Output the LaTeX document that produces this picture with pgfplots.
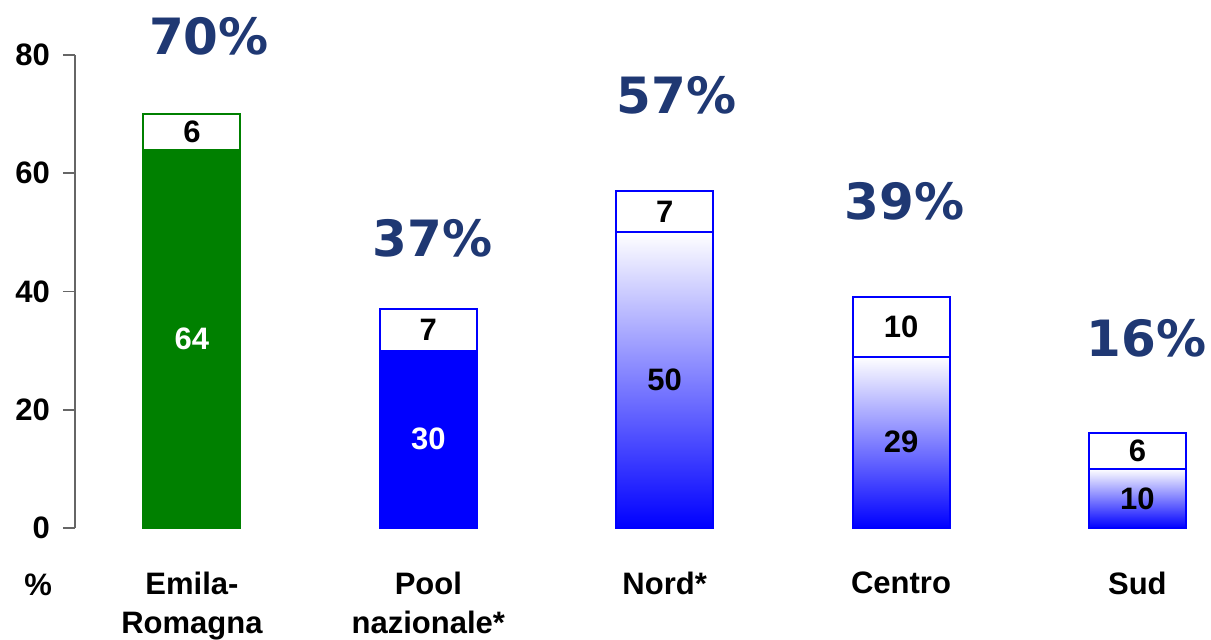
\documentclass[border=0pt]{standalone}
\usepackage{pgfplots}
\pgfplotsset{compat=1.18}
\usepackage{fontspec}
\setmainfont{Liberation Sans}
\newfontfamily\pctfont{DejaVu Sans}
\definecolor{navy}{RGB}{31,56,115}
\definecolor{ergreen}{RGB}{0,128,0}
\begin{document}
\begin{tikzpicture}
\path[use as bounding box] (-37.5pt,-56pt) rectangle (568pt,264pt);
\begin{axis}[
 at={(0,0)}, anchor=south west,
 scale only axis, width=569pt, height=236.5pt,
 xmin=-0.495, xmax=4.32, ymin=0, ymax=80,
 axis lines*=left,
 x axis line style={draw=none},
 y axis line style={draw=black!60, line width=0.8pt, -},
 ytick={0,20,40,60,80},
 ytick style={draw=black!60, line width=0.8pt},
 tick align=outside, major tick length=6pt,
 xtick={0,1,2,3,4},
 xticklabels={{Emila-\\Romagna},{Pool\\nazionale*},{Nord*},{Centro},{Sud}},
 xtick style={draw=none},
 xticklabel style={align=center, font=\fontsize{15.5}{19.5}\selectfont\bfseries, yshift=-12.5pt},
 yticklabel style={font=\fontsize{15.5}{18}\selectfont\bfseries, xshift=-3pt},
 /pgf/number format/assume math mode=true,
 clip=false,
 gradbar/.style={ybar, bar shift=0pt, bar width=48.5pt, draw=blue, line width=1pt, top color=white, middle color=blue!30, bottom color=blue},
]
% totals (white top segments with coloured border)
\addplot[ybar, bar shift=0pt, bar width=48.5pt, fill=white, draw=ergreen, line width=1pt] coordinates {(0,70)};
\addplot[ybar, bar shift=0pt, bar width=48.5pt, fill=white, draw=blue, line width=1pt] coordinates {(1,37) (2,57) (3,39) (4,16)};
% bottom segments
\addplot[ybar, bar shift=0pt, bar width=48.5pt, fill=ergreen, draw=ergreen, line width=1pt] coordinates {(0,64)};
\addplot[ybar, bar shift=0pt, bar width=48.5pt, fill=blue, draw=blue, line width=1pt] coordinates {(1,30)};
\addplot[gradbar] coordinates {(2,50)};
\addplot[gradbar] coordinates {(3,29)};
\addplot[gradbar] coordinates {(4,10)};
% value labels
\begin{scope}[every node/.style={font=\fontsize{15.5}{18}\selectfont\bfseries}]
\node[white] at (axis cs:0,32) {64};
\node at (axis cs:0,67) {6};
\node[white] at (axis cs:1,15) {30};
\node at (axis cs:1,33.5) {7};
\node at (axis cs:2,25) {50};
\node at (axis cs:2,53.5) {7};
\node at (axis cs:3,14.5) {29};
\node at (axis cs:3,34) {10};
\node at (axis cs:4,5) {10};
\node at (axis cs:4,13) {6};
\node at (axis cs:-0.651,-9.6) {\%};
\end{scope}
\begin{scope}[every node/.style={font=\pctfont\bfseries\fontsize{25}{30}\selectfont, text=navy}]
\node at (axis cs:0.072,83.2) {70\%};
\node at (axis cs:1.019,49) {37\%};
\node at (axis cs:2.05,73.2) {57\%};
\node at (axis cs:3.015,55.3) {39\%};
\node at (axis cs:4.038,32.1) {16\%};
\end{scope}
\end{axis}
\end{tikzpicture}
\end{document}
